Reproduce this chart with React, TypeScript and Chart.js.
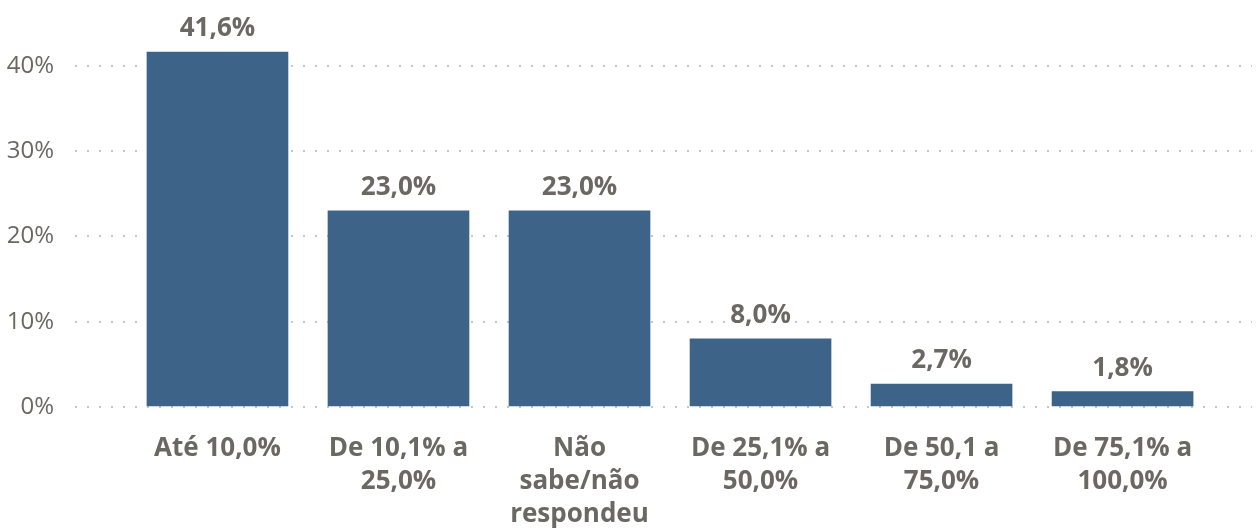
import React, { useEffect, useRef } from "react";
import { Chart, registerables } from "chart.js";

Chart.register(...registerables);

const categories: string[][] = [
  ["Até 10,0%"],
  ["De 10,1% a", "25,0%"],
  ["Não", "sabe/não", "respondeu"],
  ["De 25,1% a", "50,0%"],
  ["De 50,1 a", "75,0%"],
  ["De 75,1% a", "100,0%"],
];
const values: number[] = [41.6, 23.0, 23.0, 8.0, 2.7, 1.8];
const yTicks: number[] = [0, 10, 20, 30, 40];

const BAR_COLOR = "#3e6389";
const TEXT_COLOR = "#6b6763";
const FONT = "'Open Sans', 'Noto Sans', sans-serif";

const fmt = (v: number) => v.toFixed(1).replace(".", ",") + "%";

const valueLabels = {
  id: "valueLabels",
  afterDatasetsDraw(chart: any) {
    const ctx = chart.ctx;
    const meta = chart.getDatasetMeta(0);
    ctx.save();
    ctx.fillStyle = TEXT_COLOR;
    ctx.font = `bold 26px ${FONT}`;
    ctx.textAlign = "center";
    ctx.textBaseline = "alphabetic";
    meta.data.forEach((bar: any, i: number) => {
      ctx.fillText(fmt(values[i]), bar.x, bar.y - 16);
    });
    ctx.restore();
  },
};

export default function App() {
  const ref = useRef<HTMLCanvasElement | null>(null);
  useEffect(() => {
    if (!ref.current) return;
    const chart = new Chart(ref.current, {
      type: "bar",
      data: {
        datasets: [
          {
            data: values.map((v, i) => ({ x: i, y: v })) as any,
            backgroundColor: BAR_COLOR,
            barThickness: 141,
          },
        ],
      },
      options: {
        animation: false,
        responsive: true,
        maintainAspectRatio: false,
        layout: { padding: { top: 0, right: 6, left: 0, bottom: 0 } },
        plugins: {
          legend: { display: false },
          tooltip: { enabled: false },
        },
        scales: {
          x: {
            type: "linear",
            offset: false,
            min: -0.787,
            max: 5.715,
            grid: { display: false },
            border: { display: false },
            afterBuildTicks: (scale: any) => {
              scale.ticks = categories.map((_, i) => ({ value: i }));
            },
            afterFit: (scale: any) => {
              scale.height = 122;
              scale.paddingLeft = 0;
              scale.paddingRight = 0;
            },
            ticks: {
              autoSkip: false,
              maxRotation: 0,
              padding: 17,
              color: TEXT_COLOR,
              font: { family: FONT, size: 26, weight: "bold", lineHeight: "33px" } as any,
              callback: (v: any) => categories[Math.round(Number(v))] ?? "",
            },
          },
          y: {
            min: 0,
            max: 47.7,
            border: { display: false, dash: [2, 10] },
            grid: {
              color: "#c6c6c6",
              lineWidth: 2,
              drawTicks: false,
            },
            afterBuildTicks: (scale: any) => {
              scale.ticks = yTicks.map((v) => ({ value: v }));
            },
            afterFit: (scale: any) => {
              scale.width = 75;
              scale.paddingTop = 0;
              scale.paddingBottom = 0;
            },
            ticks: {
              padding: 21,
              color: TEXT_COLOR,
              font: { family: FONT, size: 24 },
              callback: (v: any) => v + "%",
            },
          },
        },
      },
      plugins: [valueLabels],
    });
    return () => chart.destroy();
  }, []);
  return (
    <div style={{ position: "absolute", left: 0, top: 0, width: 1258, height: 529, background: "#fff" }}>
      <canvas ref={ref} />
    </div>
  );
}
